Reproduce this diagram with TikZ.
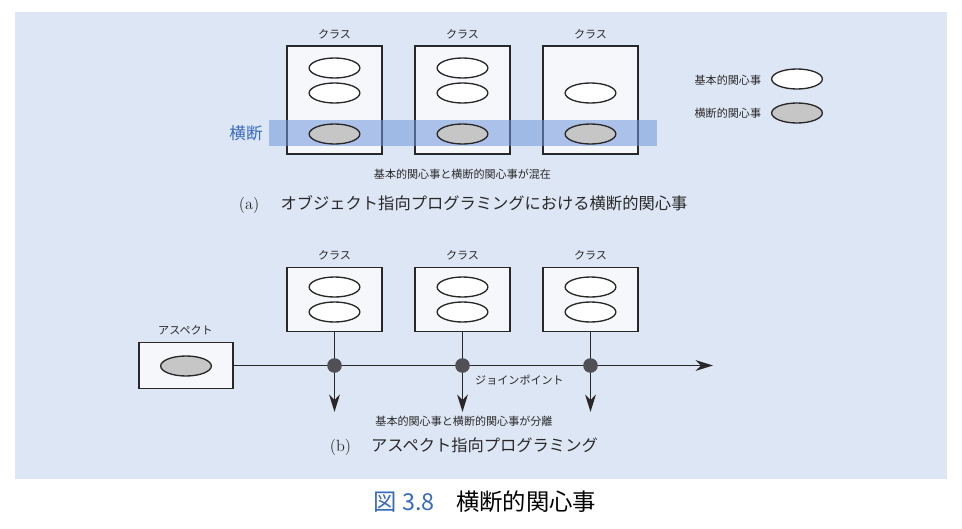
\documentclass[tikz,border=0pt]{standalone}
\usepackage{fontspec}
\newfontfamily\jp{Noto Sans CJK JP}
\usetikzlibrary{arrows.meta,shapes.geometric}

\definecolor{panelblue}{RGB}{221,230,244}
\definecolor{bandblue}{RGB}{110,150,220}
\definecolor{labelblue}{RGB}{55,105,190}
\definecolor{boxwhite}{RGB}{246,247,250}
\definecolor{concerngray}{RGB}{198,198,198}
\definecolor{dotgray}{RGB}{80,80,86}
\definecolor{ink}{RGB}{40,40,40}

\tikzset{every picture/.style={line width=0.75pt}}
\tikzset{
  classbox/.style={draw=ink, fill=boxwhite, line width=1.2pt, inner sep=0pt, minimum width=71.25pt},
  concern/.style={ellipse, draw=ink, fill=white, line width=1pt, minimum width=38pt, minimum height=15pt, inner sep=0pt},
  crosscut/.style={concern, fill=concerngray},
  smalltext/.style={font=\jp\fontsize{8.3}{10}\selectfont, text=ink},
  subcaption/.style={font=\fontsize{12.2}{14}\selectfont, text=ink, anchor=west},
  joinpoint/.style={circle, fill=dotgray, minimum size=11pt, inner sep=0pt},
  flow/.style={draw=ink, line width=1pt, -{Stealth[length=13pt,width=8pt,inset=4pt]}}
}

\begin{document}
\begin{tikzpicture}[x=0.75pt,y=0.75pt,yscale=-1,xscale=1]
\useasboundingbox (0,0) rectangle (962,528);

% Panel
\fill[white] (0,0) rectangle (962,528);
\fill[panelblue] (15,12) rectangle (947,479);

% (a) Class boxes
\node[classbox, minimum height=81pt] (ca1) at (334.5,100) {};
\node[classbox, minimum height=81pt] (ca2) at (462.5,100) {};
\node[classbox, minimum height=81pt] (ca3) at (590.5,100) {};
\node[smalltext] (ta1) at (334.5,34) {クラス};
\node[smalltext] (ta2) at (462.5,34) {クラス};
\node[smalltext] (ta3) at (590.5,34) {クラス};
% Base concerns
\node[concern] (ea1) at (334.5,68) {};
\node[concern] (eb1) at (334.5,93) {};
\node[concern] (ea2) at (462.5,68) {};
\node[concern] (eb2) at (462.5,93) {};
\node[concern] (eb3) at (590.5,93) {};
% Crosscutting band
\fill[bandblue, opacity=0.55] (269,120) rectangle (657,146);
\node[font=\jp\fontsize{12.4}{14}\selectfont, text=labelblue] (cross) at (246,133) {横断};
\node[crosscut] (ex1) at (334.5,134) {};
\node[crosscut] (ex2) at (462.5,134) {};
\node[crosscut] (ex3) at (590.5,134) {};
\node[smalltext] (mixed) at (462.5,174) {基本的関心事と横断的関心事が混在};

% Legend
\node[smalltext, anchor=east] (lgbase) at (766,80) {基本的関心事};
\node[concern] (lgbasee) at (797,79) {};
\node[smalltext, anchor=east] (lgcross) at (766,113) {横断的関心事};
\node[crosscut] (lgcrosse) at (797,113) {};

% Text Node
\node[subcaption] (capa) at (234,205) {(a)\hspace{16pt}{\jp オブジェクト指向プログラミングにおける横断的関心事}};

% (b) Class boxes
\node[classbox, minimum height=48pt] (cb1) at (334.5,299.5) {};
\node[classbox, minimum height=48pt] (cb2) at (462.5,299.5) {};
\node[classbox, minimum height=48pt] (cb3) at (590.5,299.5) {};
\node[smalltext] (tb1) at (334.5,255) {クラス};
\node[smalltext] (tb2) at (462.5,255) {クラス};
\node[smalltext] (tb3) at (590.5,255) {クラス};
\node[concern] (fa1) at (334.5,287) {};
\node[concern] (fb1) at (334.5,312) {};
\node[concern] (fa2) at (462.5,287) {};
\node[concern] (fb2) at (462.5,312) {};
\node[concern] (fa3) at (590.5,287) {};
\node[concern] (fb3) at (590.5,312) {};

% Aspect
\node[classbox, minimum width=70.5pt, minimum height=34.5pt] (asp) at (186,365.5) {};
\node[crosscut] (aspc) at (186,366) {};
\node[smalltext] (tasp) at (185.5,330) {アスペクト};

% Connection
\coordinate (jend) at (713,365.5);
\coordinate (d1) at (334.5,412);
\coordinate (d2) at (462.5,412);
\coordinate (d3) at (590.5,412);
\draw[flow] (asp) -- (jend);
\draw[flow] (cb1) -- (d1);
\draw[flow] (cb2) -- (d2);
\draw[flow] (cb3) -- (d3);
\node[joinpoint] (jp1) at (334.5,365.5) {};
\node[joinpoint] (jp2) at (462.5,365.5) {};
\node[joinpoint] (jp3) at (590.5,365.5) {};
\node[smalltext] (tjp) at (519.5,380) {ジョインポイント};
\node[smalltext] (separated) at (464,421) {基本的関心事と横断的関心事が分離};

% Text Node
\node[subcaption] (capb) at (325,447) {(b)\hspace{15pt}{\jp アスペクト指向プログラミング}};

% Figure caption
\node[anchor=west, font=\jp\fontsize{17.5}{20}\selectfont] (fig) at (369,502) {\textcolor{labelblue}{図 3.8}\hspace{16pt}横断的関心事};

\end{tikzpicture}
\end{document}
